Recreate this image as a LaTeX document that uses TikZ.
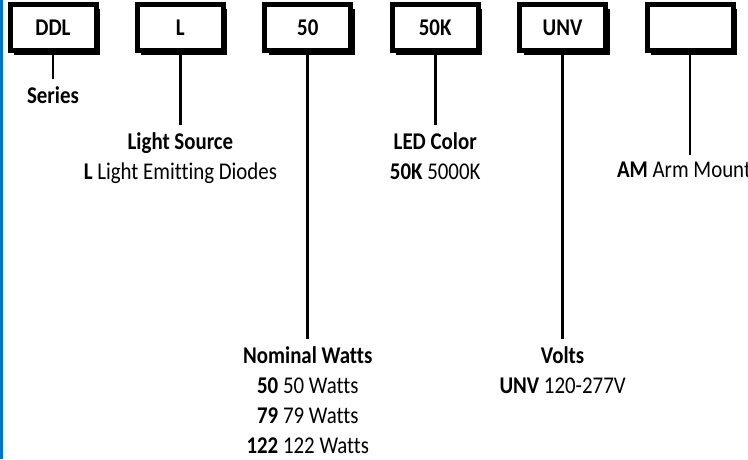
\documentclass[tikz,border=0pt]{standalone}
\usepackage{fontspec}
\setmainfont{Carlito}[FakeStretch=0.87, Ligatures={NoCommon}]
\usepackage{tikz}
\usetikzlibrary{positioning,shadows}
\definecolor{edgeblue}{RGB}{0,114,198}
\newcommand{\labelfont}{\fontsize{24}{30.3}\selectfont}

\tikzset{
	codebox/.style={draw, line width=5pt, fill=white, minimum width=86pt, minimum height=46pt, inner sep=0pt,
		font=\labelfont\bfseries, drop shadow={shadow xshift=4pt, shadow yshift=-4pt, opacity=1, fill=black}},
	caption/.style={align=center, inner sep=0pt, font=\labelfont},
	stem/.style={line width=2.8pt, shorten >=7pt}
}

\begin{document}
\begin{tikzpicture}[x=1pt, y=-1pt]
	\clip (0,0) rectangle (748,459);
	\fill[edgeblue] (0,0) rectangle (2.7,459);
	
	\node[codebox] (box1) at (53,27.5) {DDL};
	\node[codebox, right=36.4pt of box1] (box2) {L};
	\node[codebox, right=36.4pt of box2] (box3) {50};
	\node[codebox, right=36.4pt of box3] (box4) {50K};
	\node[codebox, right=36.4pt of box4] (box5) {UNV};
	\node[codebox, right=36.4pt of box5] (box6) {};
	
	\node[caption, below=33pt of box1] (series) {\textbf{Series}};
	\node[caption, below=79pt of box2] (source) {\textbf{Light Source}\\ \textbf{L} Light Emitting Diodes};
	\node[caption, below=293pt of box3] (watts) {\textbf{Nominal Watts}\\ \textbf{50} 50 Watts\\ \textbf{79} 79 Watts\\ \textbf{122} 122 Watts};
	\node[caption, below=79pt of box4] (ledcolor) {\textbf{LED Color}\\ \textbf{50K} 5000K};
	\node[caption, below=293pt of box5] (volts) {\textbf{Volts}\\ \textbf{UNV} 120-277V};
	\node[caption, below=109pt of box6, xshift=-6pt] (mounting) {\textbf{AM} Arm Mount};
	
	\draw[stem] (box1.south) -- (box1.south |- series.north);
	\draw[stem] (box2.south) -- (box2.south |- source.north);
	\draw[stem] (box3.south) -- (box3.south |- watts.north);
	\draw[stem] (box4.south) -- (box4.south |- ledcolor.north);
	\draw[stem] (box5.south) -- (box5.south |- volts.north);
	\draw[stem] (box6.south) -- (box6.south |- mounting.north);
\end{tikzpicture}
\end{document}
